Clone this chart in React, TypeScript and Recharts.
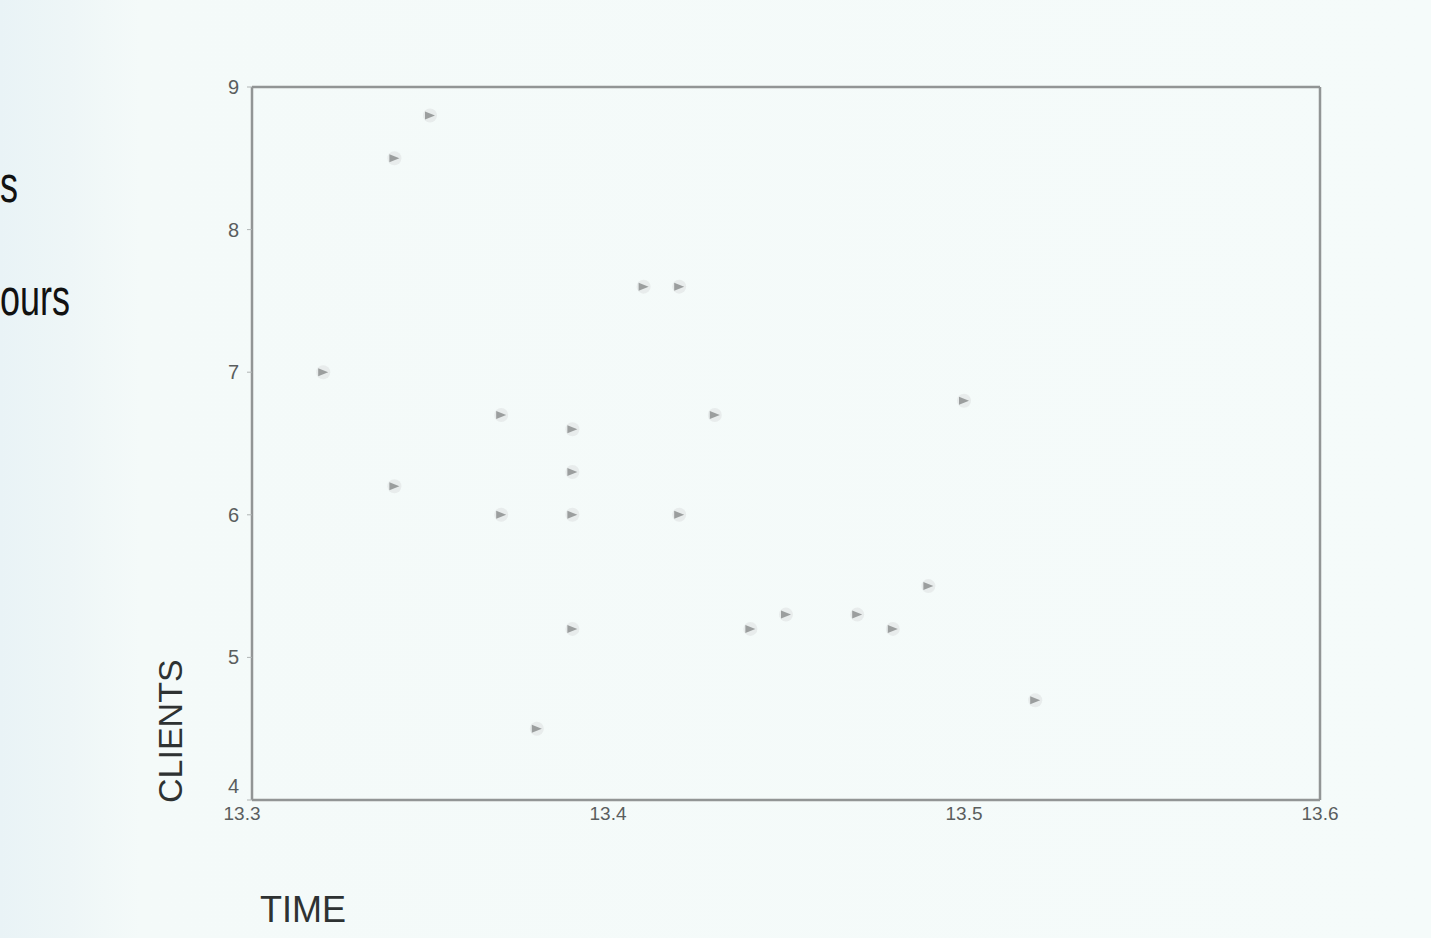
import React from "react";
import {
  ScatterChart,
  Scatter,
  XAxis,
  YAxis,
  ReferenceLine,
  Label,
} from "recharts";

// observed arrival time vs. number of clients
const TIME = [
  13.32, 13.34, 13.35, 13.34, 13.37, 13.37, 13.39, 13.39, 13.39, 13.39, 13.38,
  13.41, 13.42, 13.43, 13.42, 13.44, 13.45, 13.47, 13.48, 13.49, 13.5, 13.52,
];
const CLIENTS = [
  7.0, 8.5, 8.8, 6.2, 6.7, 6.0, 6.6, 6.3, 6.0, 5.2, 4.5,
  7.6, 7.6, 6.7, 6.0, 5.2, 5.3, 5.3, 5.2, 5.5, 6.8, 4.7,
];
const X_TICKS = [13.3, 13.4, 13.5, 13.6];
const Y_TICKS = [4, 5, 6, 7, 8, 9];

const points = TIME.map((t, i) => ({ time: t, clients: CLIENTS[i] }));

const AXIS = "#929595";
const FONT = "'Liberation Sans', Arial, sans-serif";
const TICK = "#5a5e5e";

// small soft grey marker like a photocopied plot symbol
function Marker(props: any) {
  const { cx, cy } = props;
  return (
    <g>
      <circle cx={cx} cy={cy} r={7} fill="#dfe3e3" opacity={0.6} />
      <path
        d={`M${cx - 5},${cy - 4} L${cx + 5},${cy} L${cx - 5},${cy + 4} Z`}
        fill="#878b8b"
        opacity={0.8}
      />
    </g>
  );
}

// the lowest y label sits a little above its tick, the first x label a little left
function YTick(props: any) {
  const { x, y, payload } = props;
  const lift = payload.value === 4 ? -14 : 0;
  return (
    <text x={x - 2} y={y + lift} dy={7} textAnchor="end" fill={TICK} fontSize={20} fontFamily={FONT}>
      {payload.value}
    </text>
  );
}

function XTick(props: any) {
  const { x, y, payload } = props;
  const shift = payload.value === 13.3 ? -10 : 0;
  return (
    <text x={x + shift} y={y} dy={14} textAnchor="middle" fill={TICK} fontSize={19} fontFamily={FONT}>
      {payload.value.toFixed(1)}
    </text>
  );
}

const sideText: React.CSSProperties = {
  position: "absolute",
  fontSize: 36,
  color: "#111",
  transform: "scaleY(1.45)",
  transformOrigin: "left top",
  lineHeight: 1,
};

export default function App() {
  return (
    <div
      style={{
        position: "fixed",
        left: 0,
        top: 0,
        width: 1431,
        height: 938,
        overflow: "hidden",
        background:
          "linear-gradient(90deg, #e9f3f6 0px, #eef6f7 70px, #f4faf9 140px, #f5fbfa 100%)",
        fontFamily: FONT,
      }}
    >
      <div style={{ ...sideText, left: 0, top: 158 }}>s</div>
      <div style={{ ...sideText, left: 0, top: 271 }}>ours</div>
      <ScatterChart
        width={1431}
        height={938}
        margin={{ top: 87, right: 111, bottom: 98, left: 192 }}
        style={{ position: "absolute", left: 0, top: 0 }}
      >
        <XAxis
          type="number"
          dataKey="time"
          domain={[13.3, 13.6]}
          ticks={X_TICKS}
          allowDataOverflow
          height={40}
          tickSize={0}
          tickMargin={6}
          axisLine={{ stroke: AXIS, strokeWidth: 2.5 }}
          tick={<XTick />}
        >
          <Label
            value="TIME"
            position="insideBottomLeft"
            offset={0}
            dx={8}
            dy={82}
            fill="#2e3232"
            fontSize={36}
            fontFamily={FONT}
          />
        </XAxis>
        <YAxis
          type="number"
          dataKey="clients"
          domain={[4, 9]}
          ticks={Y_TICKS}
          allowDataOverflow
          width={60}
          tickSize={5}
          tickMargin={6}
          axisLine={{ stroke: AXIS, strokeWidth: 2.5 }}
          tickLine={{ stroke: "#b0b4b4" }}
          tick={<YTick />}
        >
          <Label
            value="CLIENTS"
            angle={-90}
            position="insideBottomLeft"
            offset={0}
            dx={-10}
            dy={3}
            fill="#2e3232"
            fontSize={34}
            fontFamily={FONT}
          />
        </YAxis>
        <ReferenceLine y={9} stroke={AXIS} strokeWidth={2.5} ifOverflow="visible" />
        <ReferenceLine x={13.6} stroke={AXIS} strokeWidth={2.5} ifOverflow="visible" />
        <Scatter data={points} shape={Marker} isAnimationActive={false} />
      </ScatterChart>
    </div>
  );
}
